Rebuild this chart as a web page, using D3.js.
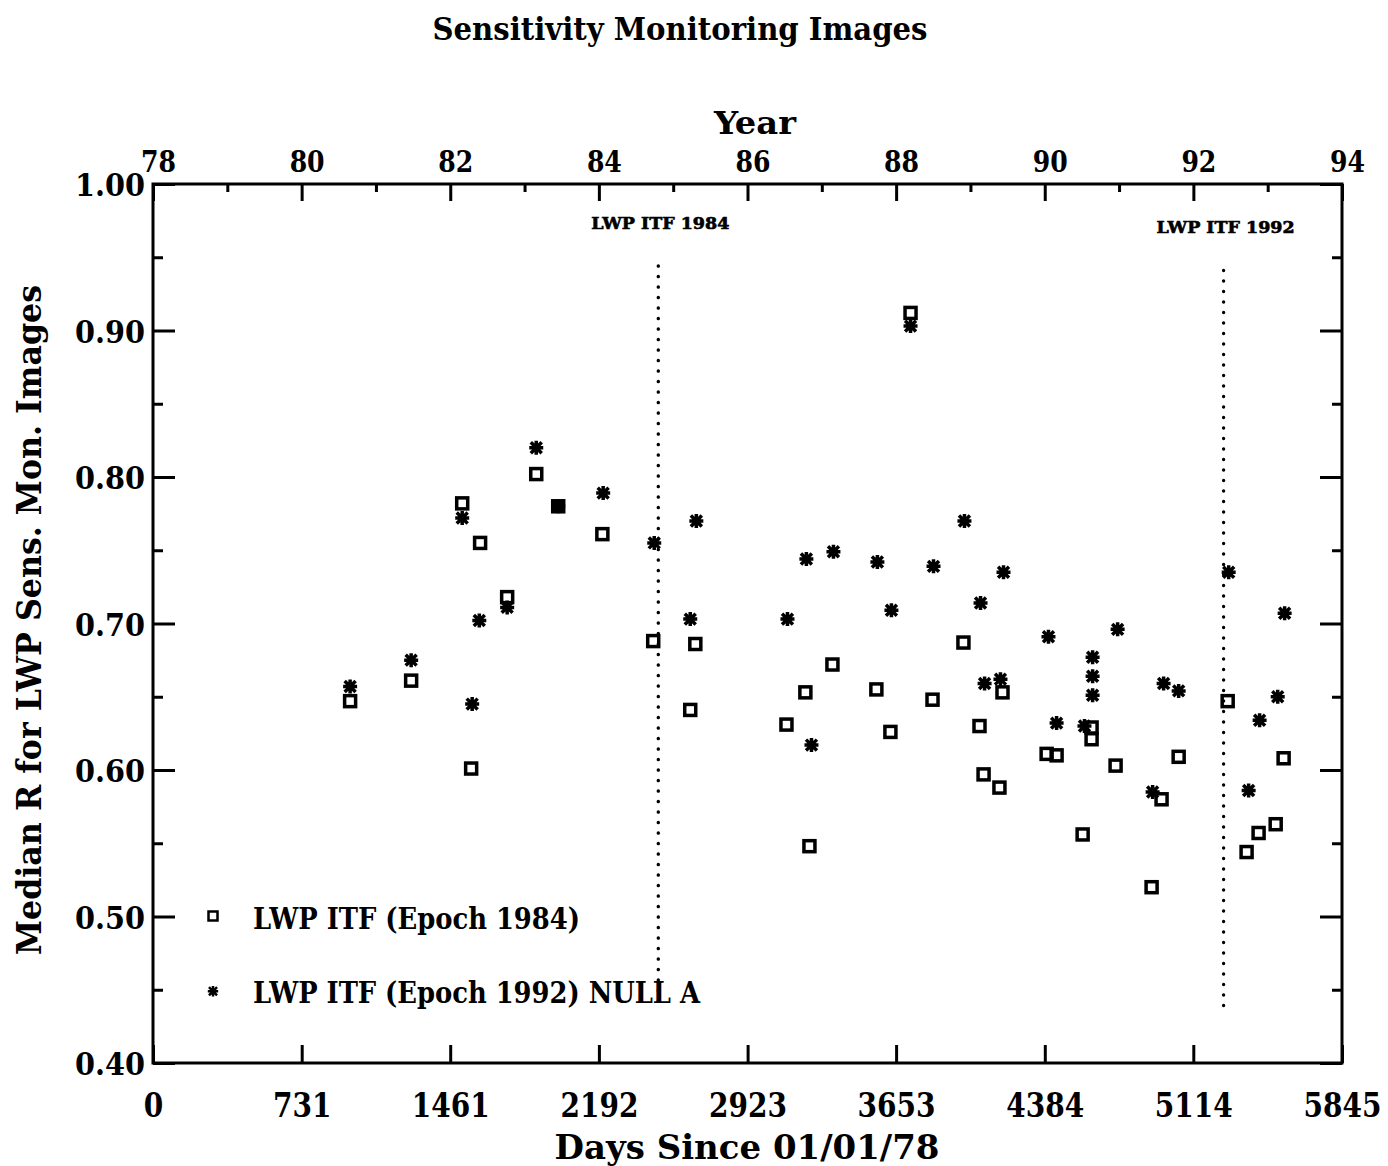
<!DOCTYPE html>
<html>
<head>
<meta charset="utf-8">
<script src="https://cdn.jsdelivr.net/npm/d3@7"></script>
<style>
  html, body { margin: 0; padding: 0; background: #fff; }
  svg { display: block; }
  text { font-family: "DejaVu Serif Condensed", "DejaVu Serif", serif; font-weight: bold; fill: #000; }
</style>
</head>
<body>
<svg id="chart" width="1388" height="1166"></svg>
<script>
// ---------------- DATA ----------------
// Days since 01/01/78 and median R values
const epoch1984Days = [969, 1269, 1520, 1608, 1564, 1741, 1884, 1992, 2209, 2459, 2666, 2641,
  3114, 3207, 3227, 3340, 3556, 3625, 3724, 3832, 3984, 4063, 4083, 4161, 4176, 4393, 4442,
  4570, 4614, 4614, 4732, 4909, 4958, 5042, 5283, 5376, 5435, 5519, 5558];
const epoch1984R = [0.647, 0.661, 0.782, 0.755, 0.601, 0.718, 0.802, 0.780, 0.761, 0.688, 0.686, 0.641,
  0.631, 0.653, 0.548, 0.672, 0.655, 0.626, 0.912, 0.648, 0.687, 0.630, 0.597, 0.588, 0.653, 0.611, 0.610,
  0.556, 0.629, 0.621, 0.603, 0.520, 0.580, 0.609, 0.647, 0.544, 0.557, 0.563, 0.608];

const epoch1992Days = [969, 1269, 1520, 1604, 1569, 1741, 1884, 1992, 2213, 2464, 2671, 2641,
  3119, 3212, 3237, 3345, 3561, 3630, 3724, 3837, 3989, 4068, 4088, 4166, 4181, 4402, 4442,
  4579, 4619, 4619, 4619, 4742, 4914, 4968, 5042, 5288, 5386, 5440, 5529, 5563];
const epoch1992R = [0.657, 0.675, 0.772, 0.702, 0.645, 0.711, 0.820, 0.780, 0.789, 0.755, 0.770, 0.703,
  0.703, 0.744, 0.617, 0.749, 0.742, 0.709, 0.903, 0.739, 0.770, 0.714, 0.659, 0.662, 0.735, 0.691, 0.632,
  0.630, 0.677, 0.664, 0.651, 0.696, 0.585, 0.659, 0.654, 0.735, 0.586, 0.634, 0.650, 0.707];

// ITF epoch markers (day, label, vertical extent in R units)
const itfDays = [2484, 5263];
const itfLabels = ["LWP ITF 1984", "LWP ITF 1992"];
const itfTop = [0.944, 0.941];
const itfBottom = [0.440, 0.435];

// Axis tick values
const dayTicks = [0, 731, 1461, 2192, 2923, 3653, 4384, 5114, 5845];
const yearMajor = [78, 80, 82, 84, 86, 88, 90, 92, 94];
const yearMinor = [79, 81, 83, 85, 87, 89, 91, 93];
const rMajor = [0.40, 0.50, 0.60, 0.70, 0.80, 0.90, 1.00];
const rMinor = [0.45, 0.55, 0.65, 0.75, 0.85, 0.95];

const legendLabels = ["LWP ITF (Epoch 1984)", "LWP ITF (Epoch 1992) NULL A"];

// ---------------- LAYOUT ----------------
const L = 153, R = 1342, T = 184, B = 1063;
const svg = d3.select("#chart");

const x = d3.scaleLinear().domain([0, 5845]).range([L, R]);
const xYear = d3.scaleLinear().domain([78, 94]).range([L, R]);
const y = d3.scaleLinear().domain([0.40, 1.00]).range([B, T]);

const axisStroke = 3;

function styleAxis(g) {
  g.select(".domain").remove();
  g.selectAll(".tick line").attr("stroke", "#000").attr("stroke-width", axisStroke);
}

// Left axis major + minor
svg.append("g").attr("transform", `translate(${L},0)`)
  .call(d3.axisLeft(y).tickValues(rMajor).tickSize(-22).tickPadding(8).tickFormat(d3.format(".2f")))
  .call(styleAxis)
  .call(g => g.selectAll(".tick text").attr("font-size", 32).attr("dy", "0.36em")
      .attr("textLength", 70).attr("lengthAdjust", "spacingAndGlyphs"));
svg.append("g").attr("transform", `translate(${L},0)`)
  .call(d3.axisLeft(y).tickValues(rMinor).tickSize(-10).tickFormat(""))
  .call(styleAxis);

// Right axis
svg.append("g").attr("transform", `translate(${R},0)`)
  .call(d3.axisRight(y).tickValues(rMajor).tickSize(-22).tickFormat(""))
  .call(styleAxis);
svg.append("g").attr("transform", `translate(${R},0)`)
  .call(d3.axisRight(y).tickValues(rMinor).tickSize(-10).tickFormat(""))
  .call(styleAxis);

// Bottom axis (days)
svg.append("g").attr("transform", `translate(0,${B})`)
  .call(d3.axisBottom(x).tickValues(dayTicks).tickSize(-18).tickPadding(31).tickFormat(d3.format("d")))
  .call(styleAxis)
  .call(g => g.selectAll(".tick text").attr("font-size", 33).attr("dy", "0.71em")
      .each(function(d) {
        const s = String(d);
        d3.select(this).attr("textLength", s.length * 19.5).attr("lengthAdjust", "spacingAndGlyphs");
      }));

// Top axis (years)
svg.append("g").attr("transform", `translate(0,${T})`)
  .call(d3.axisTop(xYear).tickValues(yearMajor).tickSize(-17).tickPadding(12).tickFormat(d => String(d)))
  .call(styleAxis)
  .call(g => g.selectAll(".tick text").attr("font-size", 30).attr("dy", "0")
      .attr("dx", 5).attr("textLength", 35).attr("lengthAdjust", "spacingAndGlyphs"));
svg.append("g").attr("transform", `translate(0,${T})`)
  .call(d3.axisTop(xYear).tickValues(yearMinor).tickSize(-8).tickFormat(""))
  .call(styleAxis);

// Frame
svg.append("rect").attr("x", L).attr("y", T).attr("width", R - L).attr("height", B - T)
  .attr("fill", "none").attr("stroke", "#000").attr("stroke-width", axisStroke);

// Titles
svg.append("text").attr("x", 680).attr("y", 40).attr("text-anchor", "middle")
  .attr("font-size", 31).attr("textLength", 495).attr("lengthAdjust", "spacingAndGlyphs")
  .text("Sensitivity Monitoring Images");
svg.append("text").attr("x", 755).attr("y", 134).attr("text-anchor", "middle")
  .attr("font-size", 32).attr("textLength", 82).attr("lengthAdjust", "spacingAndGlyphs")
  .text("Year");
svg.append("text").attr("x", 747).attr("y", 1159).attr("text-anchor", "middle")
  .attr("font-size", 33).attr("textLength", 385).attr("lengthAdjust", "spacingAndGlyphs")
  .text("Days Since 01/01/78");
svg.append("text").attr("transform", "translate(41,620) rotate(-90)").attr("text-anchor", "middle")
  .attr("font-size", 33).attr("textLength", 670).attr("lengthAdjust", "spacingAndGlyphs")
  .text("Median R for LWP Sens. Mon. Images");

// ITF epoch dotted lines + labels
const itf = itfDays.map((d, i) => ({ day: d, label: itfLabels[i], top: itfTop[i], bottom: itfBottom[i] }));
svg.selectAll(".itf-line").data(itf).join("line")
  .attr("class", "itf-line")
  .attr("x1", d => x(d.day)).attr("x2", d => x(d.day))
  .attr("y1", d => y(d.top)).attr("y2", d => y(d.bottom))
  .attr("stroke", "#000").attr("stroke-width", 3.4).attr("stroke-linecap", "round")
  .attr("stroke-dasharray", "0.1,10.4");
svg.selectAll(".itf-label").data(itf).join("text")
  .attr("class", "itf-label")
  .attr("x", d => x(d.day) + 2).attr("y", d => y(d.top) - 37)
  .attr("text-anchor", "middle").attr("font-size", 17)
  .attr("textLength", 138).attr("lengthAdjust", "spacingAndGlyphs")
  .attr("font-family", "'DejaVu Serif', serif").attr("stroke", "#000").attr("stroke-width", 0.6)
  .text(d => d.label);

// Symbols
const sq1984 = epoch1984Days.map((d, i) => ({ day: d, r: epoch1984R[i] }));
const ast1992 = epoch1992Days.map((d, i) => ({ day: d, r: epoch1992R[i] }));

function asteriskPath(s) {
  const k = s * 0.78;
  return `M${-s},0L${s},0M0,${-s}L0,${s}M${-k},${-k}L${k},${k}M${-k},${k}L${k},${-k}`;
}

svg.append("g").selectAll("rect").data(sq1984).join("rect")
  .attr("x", d => x(d.day) - 5.5).attr("y", d => y(d.r) - 5.5)
  .attr("width", 11).attr("height", 11)
  .attr("fill", "none").attr("stroke", "#000").attr("stroke-width", 3.5);

svg.append("g").selectAll("path").data(ast1992).join("path")
  .attr("transform", d => `translate(${x(d.day)},${y(d.r)})`)
  .attr("d", asteriskPath(7))
  .attr("fill", "none").attr("stroke", "#000").attr("stroke-width", 3.5);

// Legend
const legendR = [0.50, 0.449];
const legend = svg.append("g");
legend.append("rect").attr("x", 208.5).attr("y", y(legendR[0]) - 5).attr("width", 9).attr("height", 9)
  .attr("fill", "none").attr("stroke", "#000").attr("stroke-width", 2.5);
legend.append("path").attr("transform", `translate(213,${y(legendR[1])})`)
  .attr("d", asteriskPath(5.2)).attr("fill", "none").attr("stroke", "#000").attr("stroke-width", 2.5);
legend.selectAll("text").data(legendLabels).join("text")
  .attr("x", 253).attr("y", (d, i) => y(legendR[i]) + 12)
  .attr("font-size", 30)
  .attr("textLength", (d, i) => i === 0 ? 327 : 447).attr("lengthAdjust", "spacingAndGlyphs")
  .text(d => d);
</script>
</body>
</html>
